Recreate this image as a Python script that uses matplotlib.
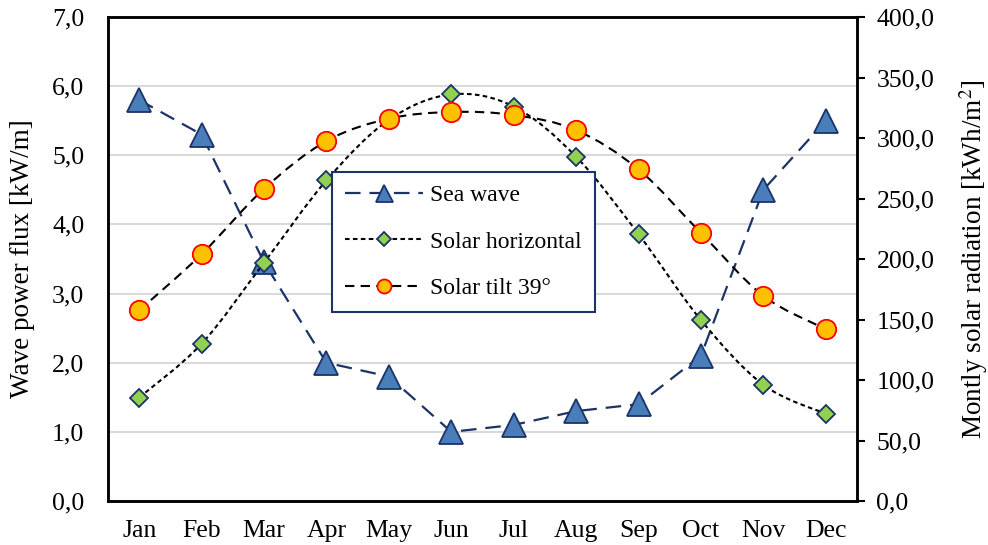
import numpy as np
import matplotlib
matplotlib.use('Agg')
import matplotlib.pyplot as plt
from matplotlib.path import Path
from matplotlib.patches import PathPatch
from matplotlib.lines import Line2D
from matplotlib.ticker import FuncFormatter, MultipleLocator

plt.rcParams['font.family'] = ['Liberation Serif', 'DejaVu Serif']
plt.rcParams['mathtext.fontset'] = 'stix'

# data
months = ['Jan', 'Feb', 'Mar', 'Apr', 'May', 'Jun', 'Jul', 'Aug', 'Sep', 'Oct', 'Nov', 'Dec']
sea_wave = [5.8, 5.3, 3.45, 2.0, 1.8, 1.0, 1.1, 1.3, 1.4, 2.1, 4.5, 5.5]          # kW/m
solar_horizontal = [85.5, 130, 197, 265, 315, 336, 326, 284.5, 220.5, 149.5, 96, 72]  # kWh/m2
solar_tilt = [157.5, 204, 258, 297.5, 316, 321.5, 319, 306.5, 274, 221.5, 169.5, 142]

NAVY = '#1b3366'
TRI_FILL = '#4a7ebb'


def smooth_path(x, y):
    # Excel-like smoothed line: cubic bezier through the points
    x = np.asarray(x, float)
    y = np.asarray(y, float)
    n = len(x)
    verts = [(x[0], y[0])]
    codes = [Path.MOVETO]
    for i in range(n - 1):
        p0 = np.array([x[max(i - 1, 0)], y[max(i - 1, 0)]])
        p1 = np.array([x[i], y[i]])
        p2 = np.array([x[i + 1], y[i + 1]])
        p3 = np.array([x[min(i + 2, n - 1)], y[min(i + 2, n - 1)]])
        c1 = p1 + (p2 - p0) / 6
        c2 = p2 - (p3 - p1) / 6
        verts += [tuple(c1), tuple(c2), tuple(p2)]
        codes += [Path.CURVE4] * 3
    return Path(verts, codes)


fig = plt.figure(figsize=(9.88, 5.45), dpi=100)
ax = fig.add_axes([108 / 988, 1 - 501 / 545, 749 / 988, 484 / 545])
ax2 = ax.twinx()

xs = np.arange(len(months))

# sea wave on the left axis
ax.plot(xs, sea_wave, color=NAVY, lw=1.6, dashes=(7, 4), marker='^', ms=17,
        mfc=TRI_FILL, mec=NAVY, mew=1.3, zorder=3)

ax.set_xlim(-0.5, 11.5)
ax.set_ylim(0, 7)
ax.yaxis.set_major_locator(MultipleLocator(1))
ax.yaxis.set_major_formatter(FuncFormatter(lambda v, p: f'{v:.1f}'.replace('.', ',')))
ax.set_xticks(xs)
ax.set_xticklabels(months)
ax.grid(axis='y', color='#d9d9d9', lw=1.5)
ax.set_axisbelow(True)
ax.tick_params(axis='y', length=0, labelsize=18.5, pad=17)
ax.tick_params(axis='x', length=0, labelsize=18.5, pad=14)
ax.set_ylabel('Wave power flux [kW/m]', fontsize=19.5, labelpad=12)

# solar series on the right axis
ax2.set_ylim(0, 400)
ax2.yaxis.set_major_locator(MultipleLocator(50))
ax2.yaxis.set_major_formatter(FuncFormatter(lambda v, p: f'{v:.1f}'.replace('.', ',')))
ax2.tick_params(axis='y', length=6, width=1.5, direction='out', labelsize=18.5, pad=8)
ax2.set_ylabel('Montly solar radiation [kWh/m$^2$]', fontsize=19.5, labelpad=16)

ax2.add_patch(PathPatch(smooth_path(xs, solar_horizontal), fill=False, edgecolor='black',
                        lw=1.5, linestyle=(0, (2.2, 1.6)), zorder=2))
ax2.add_patch(PathPatch(smooth_path(xs, solar_tilt), fill=False, edgecolor='black',
                        lw=1.5, linestyle=(0, (4.5, 3)), zorder=2))
ax2.plot(xs, solar_horizontal, ls='none', marker='D', ms=9.5, mfc='#92d050',
         mec=NAVY, mew=1.3, zorder=4)
ax2.plot(xs, solar_tilt, ls='none', marker='o', ms=14, mfc='#ffc000',
         mec='#ff0000', mew=1.3, zorder=4)

for a in (ax, ax2):
    for s in a.spines.values():
        s.set_linewidth(1.8)
        s.set_color('black')

handles = [
    Line2D([], [], color=NAVY, lw=1.6, dashes=(7, 4), marker='^', ms=17,
           mfc=TRI_FILL, mec=NAVY, mew=1.3),
    Line2D([], [], color='black', lw=1.5, linestyle=(0, (2.2, 1.6)), marker='D', ms=9.5,
           mfc='#92d050', mec=NAVY, mew=1.3),
    Line2D([], [], color='black', lw=1.5, linestyle=(0, (4.5, 3)), marker='o', ms=14,
           mfc='#ffc000', mec='#ff0000', mew=1.3),
]
leg = ax2.legend(handles, ['Sea wave', 'Solar horizontal', 'Solar tilt 39°'],
                 loc='upper left', bbox_to_anchor=(0.299, 0.68), fontsize=17,
                 frameon=True, fancybox=False, edgecolor=NAVY, framealpha=1,
                 handlelength=3.3, handletextpad=0.3, labelspacing=1.05,
                 borderpad=0.55, borderaxespad=0, markerscale=0.72)
leg.get_frame().set_linewidth(1.5)
leg.set_zorder(10)

fig.savefig('out.png', dpi=100)
